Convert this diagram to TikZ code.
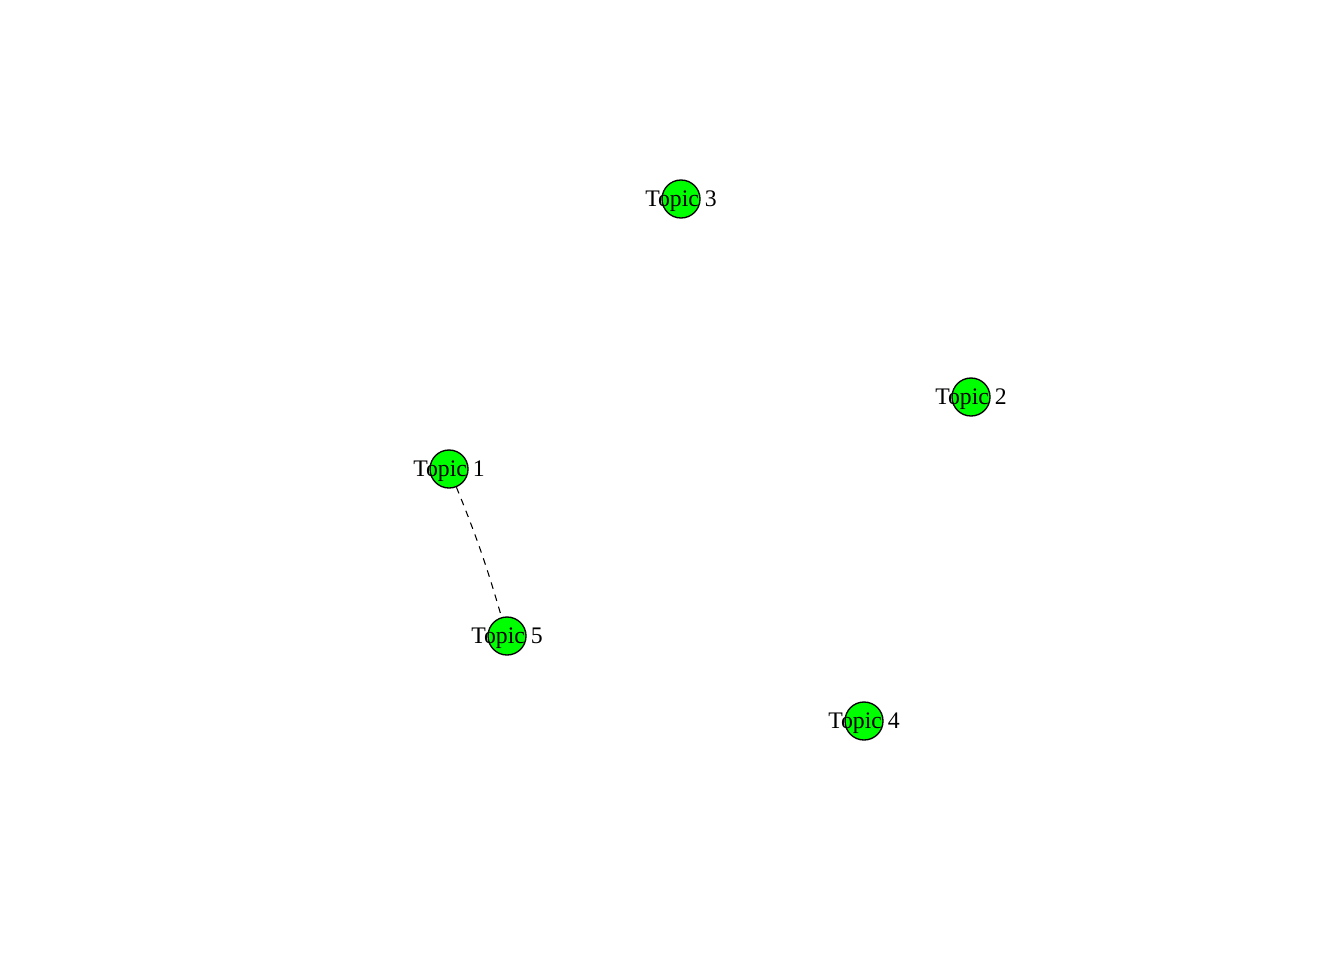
\documentclass[tikz,border=0pt]{standalone}
\usepackage{fontspec}
\setmainfont{Liberation Serif}
\usepackage{tikz}
\usetikzlibrary{positioning}

\begin{document}
\begin{tikzpicture}[x=0.75pt,y=-0.75pt]
\tikzstyle{topic}=[circle,minimum size = 28.5pt, inner sep=0pt, line width=1pt, draw =black,fill=green]
\tikzstyle{lbl}=[font=\fontsize{17.8}{20}\selectfont, inner sep=0pt, yshift=-1.5pt]
\tikzstyle{connect}=[line width=0.8pt, dash pattern=on 5pt off 4.5pt]
\useasboundingbox (0,0) rectangle (1344,960);
	\node[topic] (t_1) at (449,469) [label={[lbl]center:{Topic 1}}]{};
	\node[topic] (t_2) at (971,397) [label={[lbl]center:{Topic 2}}]{};
	\node[topic] (t_3) at (681,199) [label={[lbl]center:{Topic 3}}]{};
	\node[topic] (t_4) at (864,721) [label={[lbl]center:{Topic 4}}]{};
	\node[topic] (t_5) at (507,636) [label={[lbl]center:{Topic 5}}]{};

	\path
		(t_1) edge [connect, bend left=3] (t_5);

\end{tikzpicture}
\end{document}
